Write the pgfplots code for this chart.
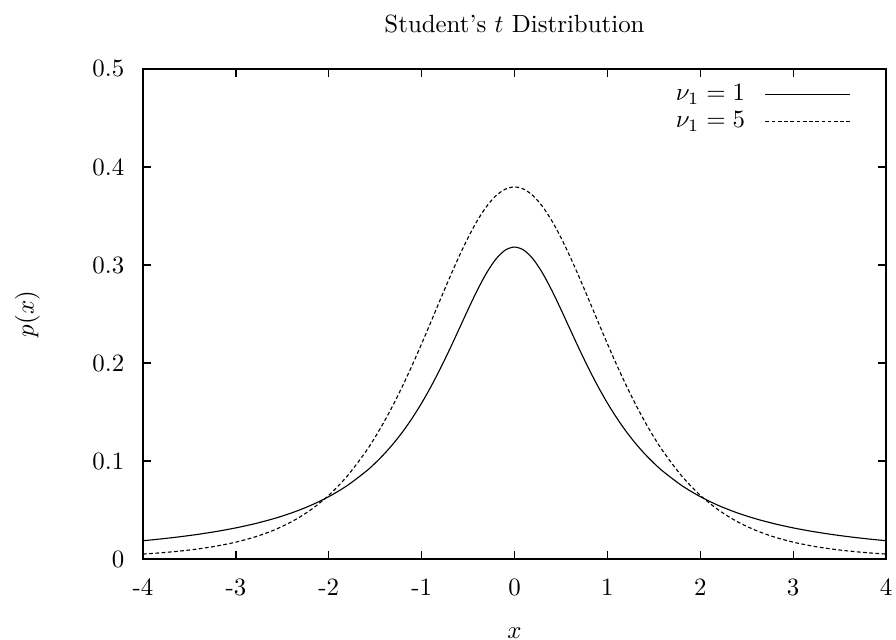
\documentclass[border=0pt]{standalone}
\usepackage{pgfplots}
\pgfplotsset{compat=1.18}
\begin{document}
\begin{tikzpicture}
\useasboundingbox (-57.45pt,-32.5pt) rectangle (302.5pt,224.6pt);
\begin{axis}[
  at={(0pt,0pt)}, anchor=south west,
  scale only axis,
  width=298.5pt, height=196.9pt,
  xmin=-4, xmax=4, ymin=0, ymax=0.5,
  xtick={-4,-3,-2,-1,0,1,2,3,4},
  xticklabels={-4,-3,-2,-1,0,1,2,3,4},
  ytick={0,0.1,0.2,0.3,0.4,0.5},
  yticklabels={0,0.1,0.2,0.3,0.4,0.5},
  tick align=inside,
  major tick length=3.2pt,
  axis line style={line width=0.6pt},
  every tick/.style={line width=0.5pt, black},
  xticklabel style={yshift=-4.5pt},
  yticklabel style={xshift=-4pt},
  every axis title shift=0pt,
  title={Student's $t$ Distribution},
  title style={at={(axis description cs:0.5,1)}, anchor=base, yshift=14.5pt},
  xlabel={$x$},
  xlabel style={at={(axis description cs:0.5,0)}, anchor=base, yshift=-31.8pt},
  ylabel={$p(x)$},
  ylabel style={at={(axis description cs:-0.1555,0.5)}, anchor=center},
  legend style={at={(axis description cs:1,1)}, anchor=north east, xshift=-14pt, yshift=-4pt, draw=none, fill=none, row sep=-1pt, inner sep=0pt, column sep=6pt},
  legend cell align=right,
  legend plot pos=right,
  legend image code/.code={\draw[#1] (0pt,0pt) -- (34pt,0pt);},
]
\addplot[black, line width=0.45pt, smooth] coordinates {
(-4.0,0.01872) (-3.8,0.02062) (-3.6,0.02280) (-3.4,0.02534) (-3.2,0.02832)
(-3.0,0.03183) (-2.8,0.03601) (-2.6,0.04102) (-2.4,0.04709) (-2.2,0.05451)
(-2.0,0.06366) (-1.8,0.07507) (-1.6,0.08941) (-1.5,0.09794) (-1.4,0.10754)
(-1.3,0.11833) (-1.2,0.13046) (-1.1,0.14403)
(-1.0,0.15915) (-0.9,0.17586) (-0.8,0.19409) (-0.7,0.21363) (-0.6,0.23405)
(-0.5,0.25465) (-0.4,0.27441) (-0.3,0.29203) (-0.2,0.30607) (-0.1,0.31516)
(0.0,0.31831)
(0.1,0.31516) (0.2,0.30607) (0.3,0.29203) (0.4,0.27441) (0.5,0.25465)
(0.6,0.23405) (0.7,0.21363) (0.8,0.19409) (0.9,0.17586) (1.0,0.15915)
(1.1,0.14403) (1.2,0.13046) (1.3,0.11833) (1.4,0.10754) (1.5,0.09794)
(1.6,0.08941) (1.8,0.07507) (2.0,0.06366)
(2.2,0.05451) (2.4,0.04709) (2.6,0.04102) (2.8,0.03601) (3.0,0.03183)
(3.2,0.02832) (3.4,0.02534) (3.6,0.02280) (3.8,0.02062) (4.0,0.01872)
};
\addlegendentry{$\nu_1 = 1$}
\addplot[black, line width=0.45pt, smooth, dash pattern=on 1.5pt off 1pt] coordinates {
(-4.0,0.00512) (-3.8,0.00646) (-3.6,0.00819) (-3.4,0.01045) (-3.2,0.01341)
(-3.0,0.01729) (-2.8,0.02242) (-2.6,0.02918) (-2.4,0.03809) (-2.2,0.04980)
(-2.0,0.06509) (-1.8,0.08481) (-1.6,0.10982) (-1.5,0.12452) (-1.4,0.14074)
(-1.3,0.15848) (-1.2,0.17766) (-1.1,0.19814)
(-1.0,0.21968) (-0.9,0.24195) (-0.8,0.26449) (-0.7,0.28677) (-0.6,0.30814)
(-0.5,0.32792) (-0.4,0.34538) (-0.3,0.35983) (-0.2,0.37065) (-0.1,0.37734)
(0.0,0.37961)
(0.1,0.37734) (0.2,0.37065) (0.3,0.35983) (0.4,0.34538) (0.5,0.32792)
(0.6,0.30814) (0.7,0.28677) (0.8,0.26449) (0.9,0.24195) (1.0,0.21968)
(1.1,0.19814) (1.2,0.17766) (1.3,0.15848) (1.4,0.14074) (1.5,0.12452)
(1.6,0.10982) (1.8,0.08481) (2.0,0.06509)
(2.2,0.04980) (2.4,0.03809) (2.6,0.02918) (2.8,0.02242) (3.0,0.01729)
(3.2,0.01341) (3.4,0.01045) (3.6,0.00819) (3.8,0.00646) (4.0,0.00512)
};
\addlegendentry{$\nu_1 = 5$}
\end{axis}
\end{tikzpicture}
\end{document}
